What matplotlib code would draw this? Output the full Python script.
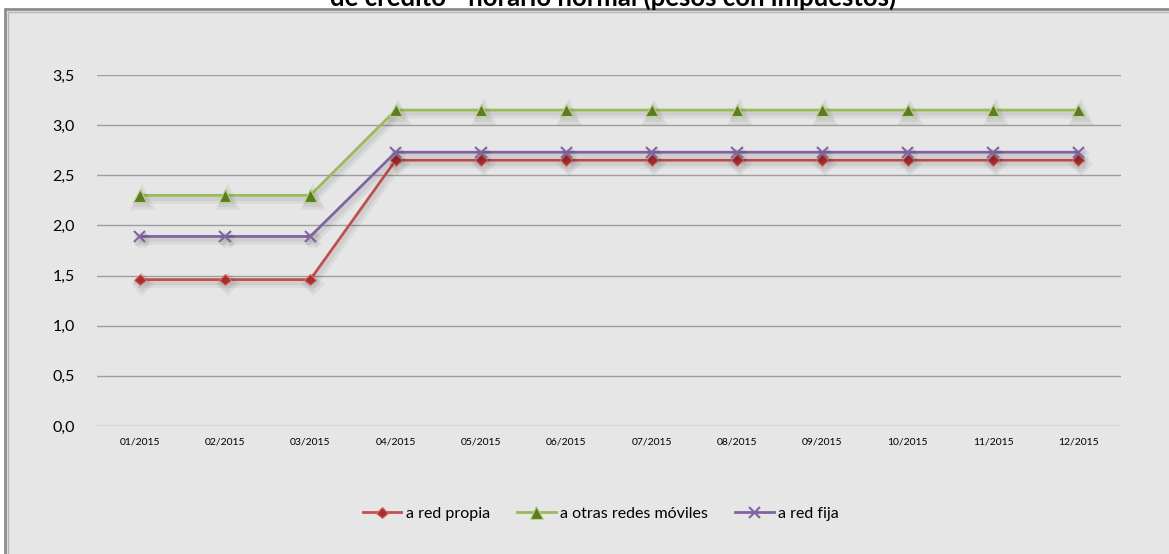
import matplotlib
matplotlib.use("Agg")
import matplotlib.pyplot as plt
import matplotlib.patheffects as pe
from matplotlib.patches import Rectangle

months = ["01/2015", "02/2015", "03/2015", "04/2015", "05/2015", "06/2015",
          "07/2015", "08/2015", "09/2015", "10/2015", "11/2015", "12/2015"]
red_propia = [1.46, 1.46, 1.46, 2.65, 2.65, 2.65, 2.65, 2.65, 2.65, 2.65, 2.65, 2.65]
otras_moviles = [2.30, 2.30, 2.30, 3.15, 3.15, 3.15, 3.15, 3.15, 3.15, 3.15, 3.15, 3.15]
red_fija = [1.89, 1.89, 1.89, 2.73, 2.73, 2.73, 2.73, 2.73, 2.73, 2.73, 2.73, 2.73]
yticks = [0.0, 0.5, 1.0, 1.5, 2.0, 2.5, 3.0, 3.5]
ytick_labels = ["0,0", "0,5", "1,0", "1,5", "2,0", "2,5", "3,0", "3,5"]
title = "de crédito - horario normal (pesos con impuestos)"

plt.rcParams['font.family'] = ['Lato', 'DejaVu Sans']

W, H = 1169, 554
fig = plt.figure(figsize=(W / 100, H / 100), dpi=100)
fig.patch.set_facecolor("white")

# chart area with border
bg = "#E6E6E6"
fig.patches.append(Rectangle((5 / W, -0.02), 1.02, 1 - 9 / H + 0.02, transform=fig.transFigure,
                             facecolor=bg, edgecolor="#8C8C8C", linewidth=2.0, zorder=-2))
fig.patches.append(Rectangle((8 / W, -0.02), 1.02, 1 - 12 / H + 0.02, transform=fig.transFigure,
                             facecolor="none", edgecolor="#B4B4B4", linewidth=1.0, zorder=-1))

fig.text(613 / W, 1 - 6 / H, title, ha="center", va="baseline", fontsize=18.5,
         fontweight="bold", color="black")

left, right = 97 / W, 1121 / W
bottom, top = (H - 426) / H, (H - 75) / H
ax = fig.add_axes([left, bottom, right - left, top - bottom])
ax.set_facecolor("none")
ax.set_zorder(2)

x = list(range(len(months)))
shadow = [pe.SimpleLineShadow(offset=(2, -3), shadow_color="black", alpha=0.05, linewidth=6),
          pe.SimpleLineShadow(offset=(1.5, -2.5), shadow_color="black", alpha=0.05, linewidth=3),
          pe.Normal()]

l1, = ax.plot(x, red_propia, color="#C0504D", lw=2, marker="D", ms=6,
              mfc="#A8302C", mec="#D9706C", mew=0.8, label="a red propia", path_effects=shadow, zorder=3)
l2, = ax.plot(x, otras_moviles, color="#9BBB59", lw=2, marker="^", ms=9,
              mfc="#5E7A24", mec="#B8D68A", mew=0.8, label="a otras redes móviles", path_effects=shadow, zorder=3)
l3, = ax.plot(x, red_fija, color="#8064A2", lw=2, marker="x", ms=8, mew=1.5,
              label="a red fija", path_effects=shadow, zorder=3)

ax.set_xlim(-0.5, len(months) - 0.5)
ax.set_ylim(0, 3.5)
ax.set_yticks(yticks)
ax.set_yticklabels(ytick_labels, fontsize=11.5)
ax.set_xticks(x)
ax.set_xticklabels(months, fontsize=7.5)
ax.tick_params(axis="y", length=0, pad=16)
ax.tick_params(axis="x", length=0, pad=8)
for s in ax.spines.values():
    s.set_visible(False)
ax.grid(axis="y", color="#9E9E9E", lw=1)
ax.set_axisbelow(True)

leg = fig.legend(handles=[l1, l2, l3], loc="center", bbox_to_anchor=(601 / W, 1 - 514 / H),
                 ncol=3, frameon=False, fontsize=11.5, handlelength=2.4, columnspacing=1.7,
                 handletextpad=0.3)
for h in leg.legend_handles:
    h.set_path_effects([pe.Normal()])

fig.savefig("out.png", dpi=100, facecolor="white")
